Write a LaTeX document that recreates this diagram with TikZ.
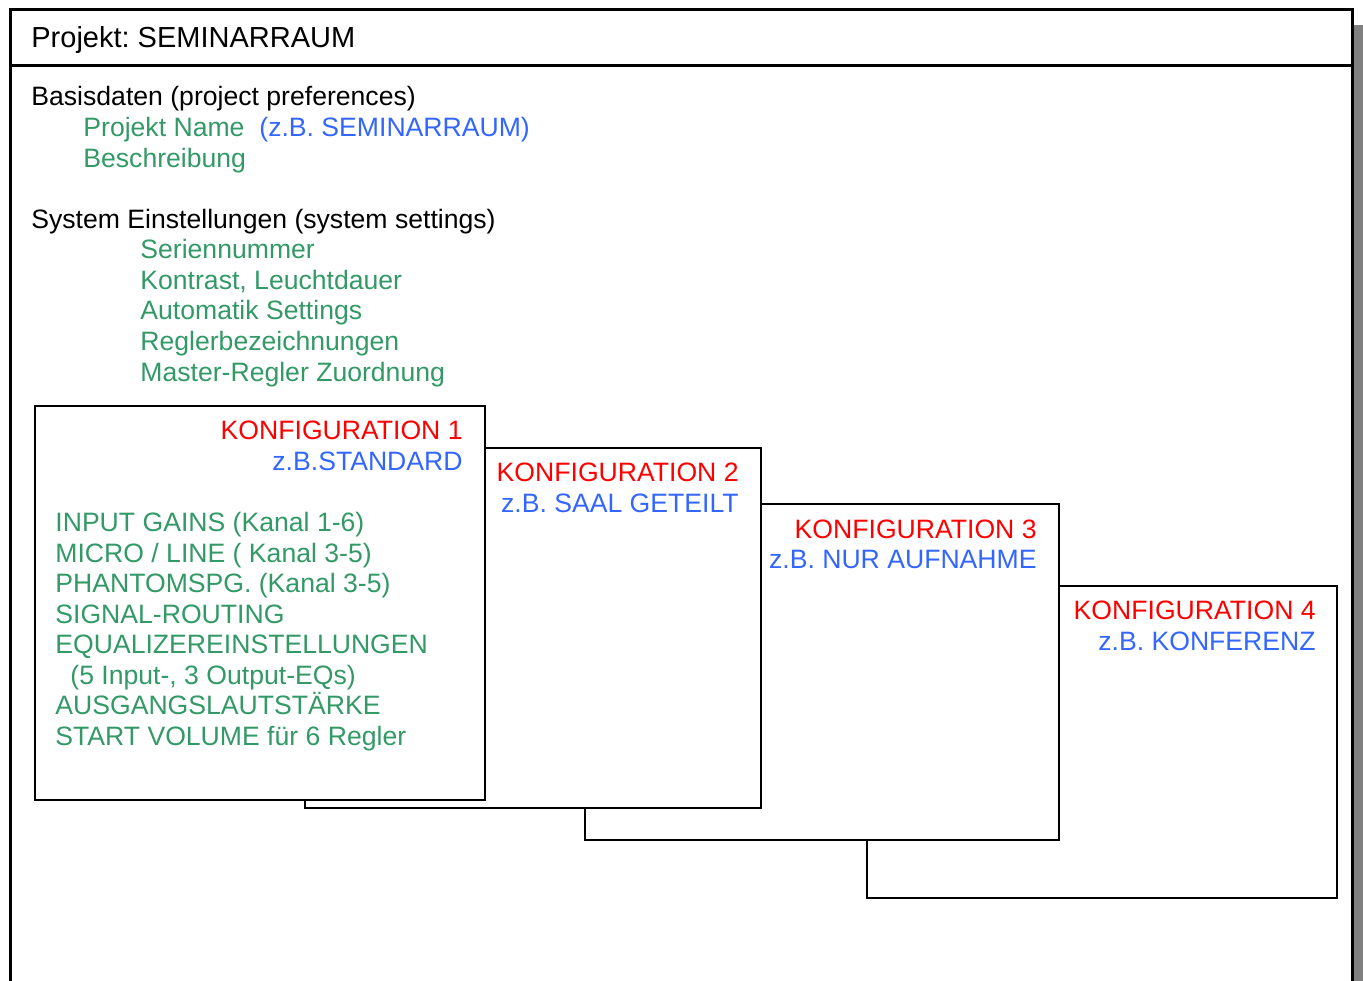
\documentclass[tikz,border=0pt]{standalone}
\usepackage{fontspec}
\setmainfont{Liberation Sans}
\frenchspacing
\definecolor{wgreen}{HTML}{339966}
\definecolor{wblue}{HTML}{3366FF}
\definecolor{wred}{HTML}{FF0000}
\tikzset{
  txt/.style={anchor=base west,inner sep=0pt,font=\fontsize{13.3}{15}\selectfont},
  rtxt/.style={txt,anchor=base east},
  cfgbox/.style={draw,line width=1pt,fill=white,inner sep=0pt,anchor=north west}
}

\begin{document}
\begin{tikzpicture}[x=0.5pt,y=-0.5pt]
\useasboundingbox (0,0) rectangle (1363,980);

% frame with shadow
\fill[gray] (1353,25) rectangle (1363,985);
\draw[line width=1.5pt] (10,990) -- (10,9) -- (1352,9) -- (1352,990);
\draw[line width=1.5pt] (10,65) -- (1352,65);
\node[txt,font=\fontsize{14.5}{16}\selectfont] (title) at (31,47) {Projekt: SEMINARRAUM};

% Basisdaten
\node[txt] (basis) at (31,105) {Basisdaten (project preferences)};
\node[txt,text=wgreen] (pname) at (83,136) {Projekt Name};
\node[txt,text=wblue] (pbsp) at (259,136) {(z.B. SEMINARRAUM)};
\node[txt,text=wgreen] (pdesc) at (83,167) {Beschreibung};

% System
\node[txt] (sys) at (31,228) {System Einstellungen (system settings)};
\foreach \i [count=\n] in {Seriennummer,{Kontrast, Leuchtdauer},Automatik Settings,Reglerbezeichnungen,Master-Regler Zuordnung}
  \node[txt,text=wgreen] (S\n) at (140,228+\n*30.6) {\i};

% configuration boxes, back to front
\foreach \x/\y/\w/\h/\k in {866/585/235/156/4,584/503/237/168/3,304/447/228/180/2,34/405/225/197/1}
  \node[cfgbox,minimum width=\w pt,minimum height=\h pt] (K\k) at (\x,\y) {};

\node[rtxt,text=wred] (K1t) at (463,439) {KONFIGURATION 1};
\node[rtxt,text=wblue] (K1b) at (463,470) {z.B.STANDARD};
\node[rtxt,text=wred] (K2t) at (739,481) {KONFIGURATION 2};
\node[rtxt,text=wblue] (K2b) at (739,512) {z.B. SAAL GETEILT};
\node[rtxt,text=wred] (K3t) at (1037,538) {KONFIGURATION 3};
\node[rtxt,text=wblue] (K3b) at (1037,568) {z.B. NUR AUFNAHME};
\node[rtxt,text=wred] (K4t) at (1316,619) {KONFIGURATION 4};
\node[rtxt,text=wblue] (K4b) at (1316,650) {z.B. KONFERENZ};

\foreach \x/\i [count=\n] in {55/{INPUT GAINS (Kanal 1-6)},55/{MICRO / LINE ( Kanal 3-5)},55/{PHANTOMSPG. (Kanal 3-5)},55/SIGNAL-ROUTING,55/EQUALIZEREINSTELLUNGEN,70/{(5 Input-, 3 Output-EQs)},55/AUSGANGSLAUTSTÄRKE,55/{START VOLUME für 6 Regler}}
  \node[txt,text=wgreen] (G\n) at (\x,501+\n*30.5) {\i};
\end{tikzpicture}
\end{document}
